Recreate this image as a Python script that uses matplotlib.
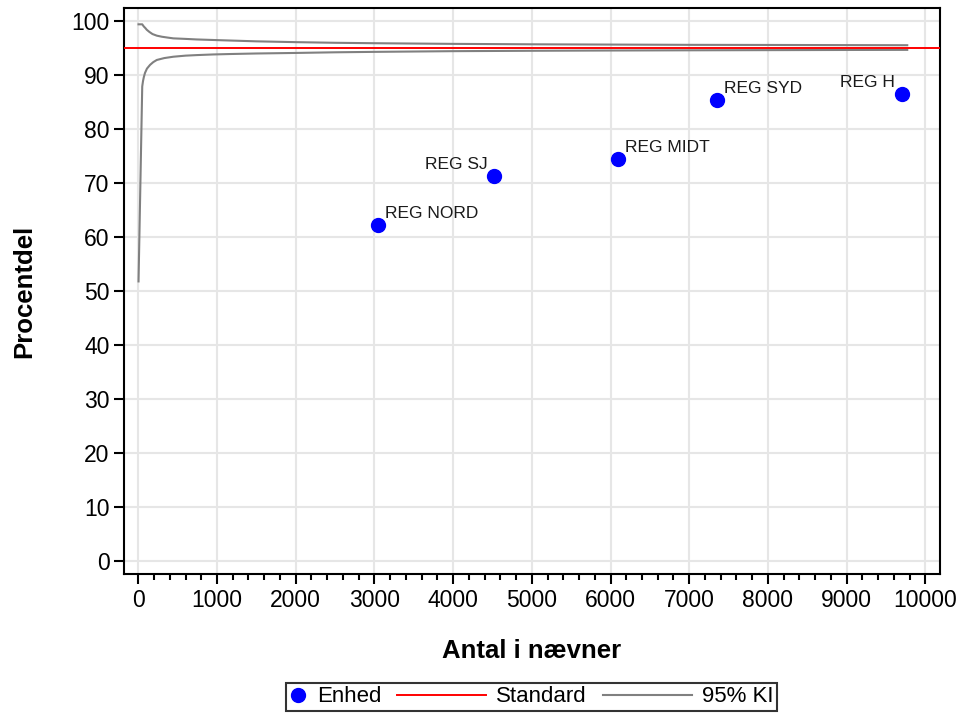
import matplotlib.pyplot as plt
from matplotlib.ticker import MultipleLocator

plt.rcParams['font.family'] = ['Liberation Sans', 'DejaVu Sans']

# Enheder
enheder = ["REG NORD", "REG SJ", "REG MIDT", "REG SYD", "REG H"]
naevner = [3048, 4521, 6095, 7357, 9702]
procent = [62.2, 71.2, 74.4, 85.3, 86.4]
label_side = ["right", "left", "right", "right", "left"]

standard = 95

# 95% KI
ki_ned_x = [3, 50, 60, 70, 85, 110, 150, 190, 235, 330, 445, 600, 740, 950, 1165,
            1500, 2000, 2500, 3000, 4000, 5000, 6000, 7000, 8000, 9000, 9770]
ki_ned_y = [51.7, 87.8, 88.8, 89.5, 90.3, 91.1, 91.8, 92.3, 92.7, 93.05, 93.3, 93.5,
            93.6, 93.72, 93.8, 93.9, 94.0, 94.12, 94.2, 94.33, 94.4, 94.45, 94.49,
            94.52, 94.55, 94.57]
ki_op_x = [3, 50, 70, 90, 107, 140, 180, 235, 300, 370, 445, 600, 740, 950, 1165,
           1500, 2000, 2500, 3000, 4000, 5000, 6000, 7000, 8000, 9000, 9770]
ki_op_y = [99.3, 99.3, 98.9, 98.6, 98.3, 97.9, 97.5, 97.2, 97.0, 96.85, 96.7, 96.6,
           96.5, 96.4, 96.3, 96.15, 96.0, 95.88, 95.8, 95.68, 95.6, 95.55, 95.5,
           95.48, 95.45, 95.43]

fig = plt.figure(figsize=(9.64, 7.13), dpi=100)
ax = fig.add_axes([0.1286, 0.195, 0.846, 0.794])

ax.grid(True, color="#e6e6e6", linewidth=1.5, zorder=0)
ax.set_axisbelow(True)

ax.plot(ki_op_x, ki_op_y, color="#808080", linewidth=1.5, label="95% KI", zorder=2)
ax.plot(ki_ned_x, ki_ned_y, color="#808080", linewidth=1.5, zorder=2)
ax.axhline(standard, color="red", linewidth=1.4, label="Standard", zorder=3)
ax.plot(naevner, procent, "o", color="blue", markersize=10, linestyle="none",
        label="Enhed", zorder=4)

for navn, x, y, side in zip(enheder, naevner, procent, label_side):
    if side == "right":
        ax.annotate(navn, (x, y), xytext=(5, 5), textcoords="offset points",
                    ha="left", va="baseline", fontsize=12.5, color="#1a1a1a")
    else:
        ax.annotate(navn, (x, y), xytext=(-5, 5), textcoords="offset points",
                    ha="right", va="baseline", fontsize=12.5, color="#1a1a1a")

ax.set_xlim(-182, 10180)
ax.set_ylim(-2.46, 102.35)
ax.xaxis.set_major_locator(MultipleLocator(1000))
ax.xaxis.set_minor_locator(MultipleLocator(200))
ax.yaxis.set_major_locator(MultipleLocator(10))
ax.tick_params(axis="both", which="major", labelsize=16.5, length=7, width=1.5)
ax.tick_params(axis="x", which="minor", length=4, width=1.5)
for s in ax.spines.values():
    s.set_linewidth(1.5)

ax.set_xlabel("Antal i nævner", fontsize=18.5, fontweight="bold", labelpad=20)
ax.set_ylabel("Procentdel", fontsize=18.5, fontweight="bold", labelpad=25)

h, l = ax.get_legend_handles_labels()
order = [2, 1, 0]
leg = fig.legend([h[i] for i in order], [l[i] for i in order], loc="lower center",
                 bbox_to_anchor=(0.551, 0.0), ncol=3, fontsize=16, frameon=True,
                 fancybox=False, edgecolor="black", handlelength=4,
                 columnspacing=0.72, borderpad=0.15, handletextpad=0.45,
                 borderaxespad=0.1)
leg.get_frame().set_linewidth(1.5)

# smallere felt til punktsymbolet i legenden
w = 13
da = leg._legend_handle_box.get_children()[0].get_children()[0].get_children()[0]
da.width = w
leg.legend_handles[0].set_xdata([0, w / 2, w])

fig.savefig("out.png", dpi=100)
